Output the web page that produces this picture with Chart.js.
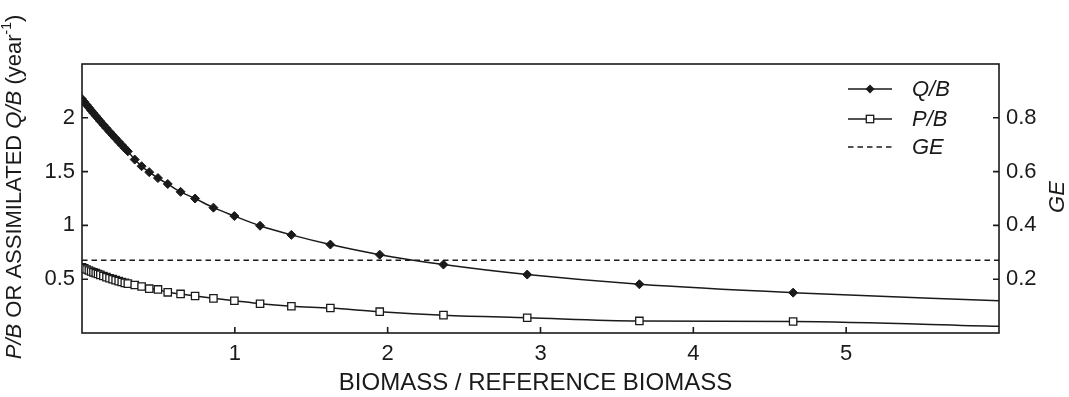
<!DOCTYPE html>
<html lang="en">
<head>
<meta charset="UTF-8">
<title>Q/B and P/B against biomass</title>
<script src="https://cdn.jsdelivr.net/npm/chart.js"></script>
<style>
  body { margin: 0; background: #fff; }
  #wrap { width: 1069px; height: 397px; }
</style>
</head>
<body>
<div id="wrap"><canvas id="chart" width="1069" height="397"></canvas></div>
<script>
// values (biomass relative to reference biomass)
const biomass = [0, 0.015, 0.03, 0.045, 0.06, 0.075, 0.09, 0.105, 0.12, 0.14, 0.16, 0.18,
  0.2, 0.22, 0.24, 0.26, 0.28, 0.3, 0.345, 0.39, 0.44, 0.497, 0.561, 0.645, 0.74, 0.86,
  0.997, 1.165, 1.37, 1.625, 1.948, 2.365, 2.913, 3.647, 4.653, 6.0];
const qbValues = [2.175, 2.148, 2.121, 2.095, 2.069, 2.043, 2.018, 1.993, 1.968, 1.935, 1.903, 1.871,
  1.840, 1.809, 1.778, 1.748, 1.718, 1.688, 1.612, 1.550, 1.495, 1.440, 1.385, 1.312, 1.250, 1.165,
  1.087, 0.997, 0.912, 0.822, 0.728, 0.636, 0.543, 0.453, 0.375, 0.300];
const pbValues = [0.611, 0.600, 0.590, 0.581, 0.572, 0.564, 0.556, 0.548, 0.540, 0.530, 0.519, 0.509,
  0.500, 0.491, 0.482, 0.474, 0.466, 0.459, 0.446, 0.432, 0.412, 0.405, 0.378, 0.363, 0.344, 0.322,
  0.300, 0.272, 0.249, 0.232, 0.198, 0.166, 0.142, 0.112, 0.107, 0.062];
const geBiomass = [0, 6];
const geValues = [0.27, 0.27];

const ink = '#1a1a1a';
const family = '"Liberation Sans", Arial, Helvetica, sans-serif';

// last point only continues the curve to the frame, no marker there
const markers = r => biomass.map((x, i) => i === biomass.length - 1 ? 0 : r);
const pairs = (xs, ys) => xs.map((x, i) => ({ x: x, y: ys[i] }));

// frame + inward tick marks
const framePlugin = {
  id: 'frame',
  beforeDatasetsDraw(chart) {
    const { ctx, chartArea: a, scales } = chart;
    ctx.save();
    ctx.strokeStyle = ink;
    ctx.lineWidth = 1.6;
    ctx.strokeRect(a.left, a.top, a.right - a.left, a.bottom - a.top);
    const each = (scale, fn) => scale.ticks.forEach(t => {
      if (t.value <= scale.min || t.value >= scale.max) return;
      fn(scale.getPixelForValue(t.value));
    });
    ctx.beginPath();
    each(scales.x, p => { ctx.moveTo(p, a.bottom); ctx.lineTo(p, a.bottom - 6); });
    each(scales.y, p => { ctx.moveTo(a.left, p); ctx.lineTo(a.left + 6, p); });
    each(scales.y1, p => { ctx.moveTo(a.right, p); ctx.lineTo(a.right - 6, p); });
    ctx.stroke();
    ctx.restore();
  }
};

// axis titles (mixed italic) and the legend
const textPlugin = {
  id: 'texts',
  afterDraw(chart) {
    const { ctx, chartArea: a } = chart;
    ctx.save();
    ctx.fillStyle = ink;
    ctx.textBaseline = 'middle';

    ctx.font = '24px ' + family;
    ctx.textAlign = 'center';
    ctx.fillText('BIOMASS / REFERENCE BIOMASS', (a.left + a.right) / 2 - 5, 383);

    // left title
    const segs = [
      ['P/B', 'italic 22px ', 0],
      [' OR ASSIMILATED ', '22px ', 0],
      ['Q/B', 'italic 22px ', 0],
      [' (year', '22px ', 0],
      ['-1', '14px ', -8],
      [')', '22px ', 0]
    ];
    ctx.save();
    ctx.translate(15, 187);
    ctx.rotate(-Math.PI / 2);
    ctx.textAlign = 'left';
    let total = 0;
    segs.forEach(s => { ctx.font = s[1] + family; total += ctx.measureText(s[0]).width; });
    let pos = -total / 2;
    segs.forEach(s => {
      ctx.font = s[1] + family;
      ctx.fillText(s[0], pos, s[2]);
      pos += ctx.measureText(s[0]).width;
    });
    ctx.restore();

    // right title
    ctx.save();
    ctx.translate(1058, 197);
    ctx.rotate(-Math.PI / 2);
    ctx.font = 'italic 22px ' + family;
    ctx.textAlign = 'center';
    ctx.fillText('GE', 0, 0);
    ctx.restore();

    // legend
    const x0 = 848, x1 = 892, tx = 912;
    const rows = [['Q/B', 89], ['P/B', 119], ['GE', 147]];
    ctx.strokeStyle = ink;
    ctx.lineWidth = 1.5;
    rows.forEach((r, i) => {
      ctx.beginPath();
      ctx.setLineDash(i === 2 ? [5.5, 4] : []);
      ctx.moveTo(x0, r[1]);
      ctx.lineTo(x1, r[1]);
      ctx.stroke();
    });
    ctx.setLineDash([]);
    const mx = (x0 + x1) / 2;
    ctx.beginPath();
    ctx.moveTo(mx - 4.5, 89); ctx.lineTo(mx, 84.5); ctx.lineTo(mx + 4.5, 89); ctx.lineTo(mx, 93.5);
    ctx.closePath();
    ctx.fill();
    ctx.fillStyle = '#fff';
    ctx.fillRect(mx - 3.7, 119 - 3.7, 7.4, 7.4);
    ctx.lineWidth = 1.3;
    ctx.strokeRect(mx - 3.7, 119 - 3.7, 7.4, 7.4);
    ctx.fillStyle = ink;
    ctx.font = 'italic 22px ' + family;
    ctx.textAlign = 'left';
    rows.forEach(r => ctx.fillText(r[0], tx, r[1] + 1));
    ctx.restore();
  }
};

const tickFont = { family: family, size: 22 };
const noGrid = { display: false, drawTicks: false };

new Chart(document.getElementById('chart').getContext('2d'), {
  type: 'line',
  data: {
    datasets: [
      {
        label: 'Q/B',
        data: pairs(biomass, qbValues),
        yAxisID: 'y',
        borderColor: ink,
        borderWidth: 1.5,
        pointStyle: 'rectRot',
        pointRadius: markers(4.5),
        pointBackgroundColor: ink,
        pointBorderColor: ink,
        pointBorderWidth: 1,
        cubicInterpolationMode: 'monotone'
      },
      {
        label: 'P/B',
        data: pairs(biomass, pbValues),
        yAxisID: 'y',
        borderColor: ink,
        borderWidth: 1.5,
        pointStyle: 'rect',
        pointRadius: markers(5.2),
        pointBackgroundColor: '#fff',
        pointBorderColor: ink,
        pointBorderWidth: 1.3,
        cubicInterpolationMode: 'monotone'
      },
      {
        label: 'GE',
        data: pairs(geBiomass, geValues),
        yAxisID: 'y1',
        borderColor: ink,
        borderWidth: 1.5,
        borderDash: [5.5, 4],
        pointRadius: 0
      }
    ]
  },
  options: {
    responsive: false,
    animation: false,
    layout: { padding: { top: 64, left: 0, right: 0, bottom: 0 } },
    plugins: { legend: { display: false }, tooltip: { enabled: false } },
    scales: {
      x: {
        type: 'linear', min: 0, max: 6,
        afterFit: s => { s.height = 64; },
        grid: noGrid, border: { display: false },
        ticks: { stepSize: 1, padding: 8, color: ink, font: tickFont,
          callback: v => (v <= 0 || v >= 6) ? '' : v }
      },
      y: {
        position: 'left', min: 0, max: 2.5,
        afterFit: s => { s.width = 82; },
        grid: noGrid, border: { display: false },
        ticks: { stepSize: 0.5, padding: 7, color: ink, font: tickFont,
          callback: v => (v <= 0 || v >= 2.5) ? '' : v }
      },
      y1: {
        position: 'right', min: 0, max: 1,
        afterFit: s => { s.width = 70; },
        grid: noGrid, border: { display: false },
        ticks: { stepSize: 0.2, padding: 7, color: ink, font: tickFont,
          callback: v => (v <= 0 || v >= 1) ? '' : Math.round(v * 10) / 10 }
      }
    }
  },
  plugins: [framePlugin, textPlugin]
});
</script>
</body>
</html>
